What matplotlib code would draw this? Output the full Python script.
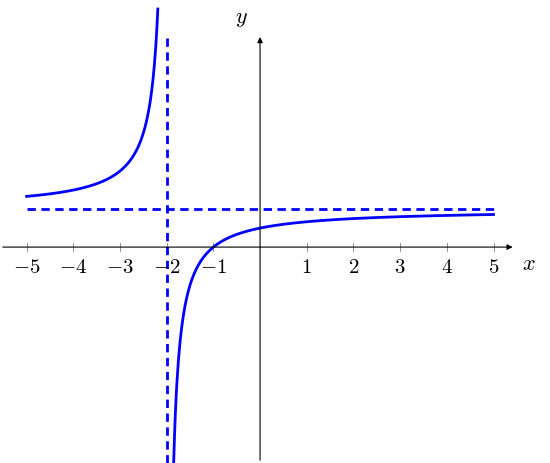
import numpy as np
import matplotlib.pyplot as plt

plt.rcParams['mathtext.fontset'] = 'cm'

# f(x) = (x + 1) / (x + 2), asymptotes x = -2, y = 1
x_left = np.linspace(-5, -2.19, 300)
x_right = np.linspace(-1.85, 5, 400)
asym_x = -2
asym_y = 1
xticks = [-5, -4, -3, -2, -1, 1, 2, 3, 4, 5]

def f(x):
    return (x + 1) / (x + 2)

fig = plt.figure(figsize=(5.5, 4.63), dpi=100)
ax = fig.add_axes([0, 0, 1, 1])
ax.set_xlim(-5.57, 6.21)
ax.set_ylim(-5.68, 6.5)
ax.axis('off')

# axes with arrows
ax.annotate('', xy=(5.47, 0), xytext=(-5.57, 0),
            arrowprops=dict(arrowstyle='-|>', color='black', lw=0.8, mutation_scale=8))
ax.annotate('', xy=(0, 5.6), xytext=(0, -5.68),
            arrowprops=dict(arrowstyle='-|>', color='black', lw=0.8, mutation_scale=8))
ax.text(5.75, -0.45, r'$x$', fontsize=16, ha='center', va='center')
ax.text(-0.4, 6.0, r'$y$', fontsize=16, ha='center', va='center')

for t in xticks:
    ax.plot([t, t], [-0.1, 0.1], color='gray', lw=0.6)
    ax.text(t, -0.25, r'$%d$' % t, fontsize=15, ha='center', va='top')

ax.plot(x_left, f(x_left), color='blue', lw=2)
ax.plot(x_right, f(x_right), color='blue', lw=2)
ax.plot([asym_x, asym_x], [-5.68, 5.6], color='blue', lw=2, ls=(0, (3, 2)))
ax.plot([-5, 5], [asym_y, asym_y], color='blue', lw=2, ls=(0, (3, 2)))

fig.savefig('out.png', dpi=100)
